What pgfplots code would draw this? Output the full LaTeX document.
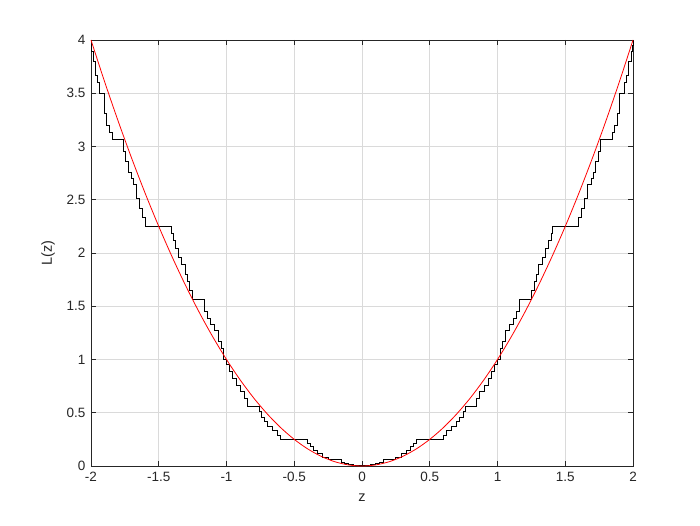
\documentclass[border=0pt]{standalone}
\usepackage{fontspec}
\setmainfont{Liberation Sans}
\usepackage{pgfplots}
\pgfplotsset{compat=1.18}
\definecolor{mgrid}{RGB}{218,218,218}
\definecolor{maxis}{RGB}{38,38,38}

\begin{document}
\begin{tikzpicture}[x=1pt,y=1pt]
\useasboundingbox (0,0) rectangle (700,525);
\begin{axis}[
  at={(91pt,59pt)},anchor=south west,
  scale only axis,width=542pt,height=426pt,
  xmin=-2,xmax=2,ymin=0,ymax=4,
  xtick={-2,-1.5,-1,-0.5,0,0.5,1,1.5,2},
  xticklabels={-2,-1.5,-1,-0.5,0,0.5,1,1.5,2},
  ytick={0,0.5,1,1.5,2,2.5,3,3.5,4},
  yticklabels={0,0.5,1,1.5,2,2.5,3,3.5,4},
  tick align=inside,major tick length=5pt,
  xmajorgrids=true,ymajorgrids=true,
  grid style={draw=mgrid,line width=0.6pt},
  axis line style={draw=maxis,line width=0.6pt},
  tick style={draw=maxis,line width=0.6pt},
  tick label style={font=\fontsize{13.5}{15}\selectfont,text=maxis},
  label style={font=\fontsize{14.5}{16}\selectfont,text=maxis},
  xlabel={z},ylabel={L(z)},
  xticklabel style={yshift=-3pt},
  xlabel style={yshift=-5pt},
  yticklabel style={xshift=-2pt},
  ylabel style={yshift=5pt},
  /pgf/number format/assume math mode=true,
  clip=false]
% staircase, right half (value holds until the next z)
\addplot[const plot,draw=black,line width=0.9pt] coordinates {
(0,0.003) (0.06,0.01) (0.10,0.02) (0.13,0.035) (0.155,0.0625)
(0.25,0.085) (0.29,0.12) (0.33,0.15) (0.355,0.18) (0.38,0.21)
(0.405,0.25) (0.60,0.29) (0.625,0.33) (0.66,0.37) (0.70,0.42)
(0.72,0.46) (0.745,0.51) (0.76,0.5625) (0.845,0.635) (0.87,0.70)
(0.90,0.76) (0.93,0.82) (0.955,0.885) (0.975,0.95) (1.00,1.00)
(1.02,1.10) (1.04,1.17) (1.06,1.27) (1.09,1.33) (1.115,1.39)
(1.14,1.45) (1.16,1.5625) (1.25,1.65) (1.27,1.73) (1.29,1.80)
(1.305,1.89) (1.33,1.96) (1.355,2.04) (1.375,2.12) (1.395,2.18)
(1.405,2.25) (1.60,2.33) (1.62,2.42) (1.645,2.51) (1.665,2.64)
(1.69,2.70) (1.705,2.76) (1.725,2.86) (1.745,2.95) (1.76,3.0625)
(1.845,3.13) (1.865,3.20) (1.885,3.31) (1.90,3.50) (1.935,3.60)
(1.955,3.67) (1.97,3.80) (1.985,3.89) (1.995,3.95) (2.00,4.00)};
% staircase, left half
\addplot[const plot,draw=black,line width=0.9pt] coordinates {
(0,0.003) (-0.06,0.01) (-0.10,0.02) (-0.13,0.035) (-0.155,0.0625)
(-0.25,0.085) (-0.29,0.12) (-0.33,0.15) (-0.355,0.18) (-0.38,0.21)
(-0.405,0.25) (-0.60,0.29) (-0.625,0.33) (-0.66,0.37) (-0.70,0.42)
(-0.72,0.46) (-0.745,0.51) (-0.76,0.5625) (-0.845,0.635) (-0.87,0.70)
(-0.90,0.76) (-0.93,0.82) (-0.955,0.885) (-0.975,0.95) (-1.00,1.00)
(-1.02,1.10) (-1.04,1.17) (-1.06,1.27) (-1.09,1.33) (-1.115,1.39)
(-1.14,1.45) (-1.16,1.5625) (-1.25,1.65) (-1.27,1.73) (-1.29,1.80)
(-1.305,1.89) (-1.33,1.96) (-1.355,2.04) (-1.375,2.12) (-1.395,2.18)
(-1.405,2.25) (-1.60,2.33) (-1.62,2.42) (-1.645,2.51) (-1.665,2.64)
(-1.69,2.70) (-1.705,2.76) (-1.725,2.86) (-1.745,2.95) (-1.76,3.0625)
(-1.845,3.13) (-1.865,3.20) (-1.885,3.31) (-1.90,3.50) (-1.935,3.60)
(-1.955,3.67) (-1.97,3.80) (-1.985,3.89) (-1.995,3.95) (-2.00,4.00)};
% parabola
\addplot[smooth,draw=red,line width=0.8pt] coordinates {
(-2.0,4.00) (-1.9,3.61) (-1.8,3.24) (-1.7,2.89) (-1.6,2.56) (-1.5,2.25)
(-1.4,1.96) (-1.3,1.69) (-1.2,1.44) (-1.1,1.21) (-1.0,1.00) (-0.9,0.81)
(-0.8,0.64) (-0.7,0.49) (-0.6,0.36) (-0.5,0.25) (-0.4,0.16) (-0.3,0.09)
(-0.2,0.04) (-0.1,0.01) (0.0,0.00) (0.1,0.01) (0.2,0.04) (0.3,0.09)
(0.4,0.16) (0.5,0.25) (0.6,0.36) (0.7,0.49) (0.8,0.64) (0.9,0.81)
(1.0,1.00) (1.1,1.21) (1.2,1.44) (1.3,1.69) (1.4,1.96) (1.5,2.25)
(1.6,2.56) (1.7,2.89) (1.8,3.24) (1.9,3.61) (2.0,4.00)};
\end{axis}
\end{tikzpicture}
\end{document}
